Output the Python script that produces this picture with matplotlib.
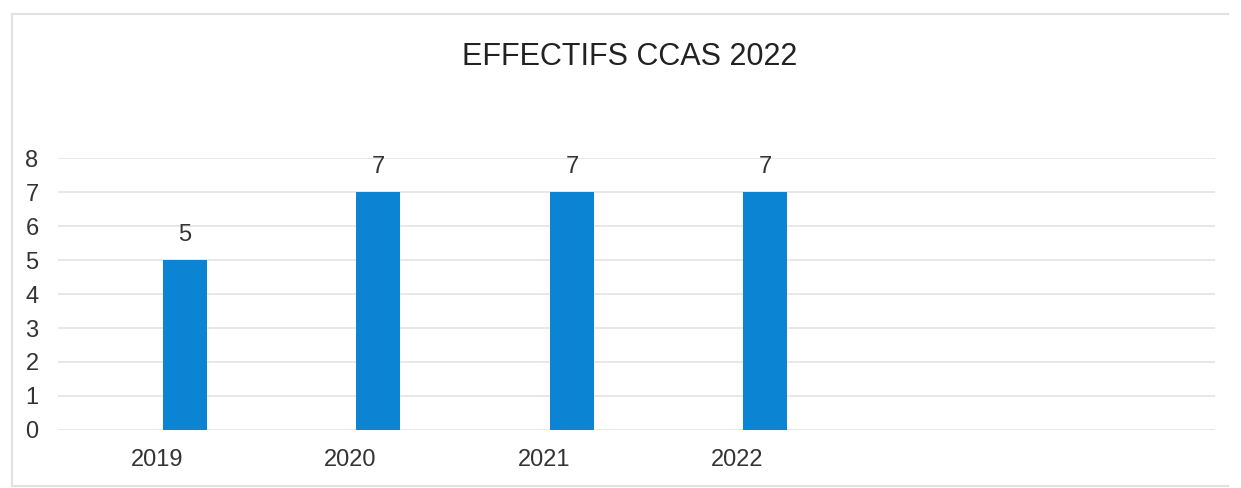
import matplotlib
matplotlib.use("Agg")
import matplotlib.pyplot as plt
from matplotlib.lines import Line2D

# data
years = ["2019", "2020", "2021", "2022"]
effectifs = [5, 7, 7, 7]

plt.rcParams["font.family"] = ["Liberation Sans Narrow", "Liberation Sans", "DejaVu Sans"]

fig = plt.figure(figsize=(12.41, 4.88), dpi=100)
ax = fig.add_axes([58 / 1241, 1 - 430 / 488, (1215 - 58) / 1241, (430 - 158) / 488])

x = list(range(len(years)))
ax.bar(x, effectifs, width=44 / 193.5, color="#0B84D4", zorder=3)

for xi, v in zip(x, effectifs):
    ax.annotate(str(v), (xi, v), xytext=(0, 18), textcoords="offset points",
                ha="center", va="center", fontsize=17, color="#333333")

ax.set_xlim(-(185 - 58) / 193.5, (1215 - 185) / 193.5)
ax.set_ylim(0, 8)
ax.set_yticks(range(0, 9))
ax.yaxis.grid(True, color="#E4E4E4", linewidth=1.2, zorder=0)

# category labels sit a bit left of the bars in the source
ax.set_xticks([xi - 28 / 193.5 for xi in x])
ax.set_xticklabels(years)

ax.tick_params(axis="both", length=0, labelsize=17, colors="#333333")
ax.tick_params(axis="y", pad=14)
ax.tick_params(axis="x", pad=14)
for s in ax.spines.values():
    s.set_visible(False)

fig.text(630 / 1241, 1 - 57 / 488, "EFFECTIFS CCAS 2022", ha="center", va="center",
         fontsize=22, color="#222222")

# light chart border (left, top, bottom)
bx0, bx1 = 12 / 1241, 1228 / 1241
by0, by1 = 1 - 486 / 488, 1 - 14 / 488
for xs, ys in [([bx0, bx0], [by0, by1]), ([bx0, bx1], [by1, by1]), ([bx0, bx1], [by0, by0])]:
    fig.add_artist(Line2D(xs, ys, transform=fig.transFigure, color="#E2E2E2", linewidth=1.5))

fig.savefig("out.png", dpi=100)
